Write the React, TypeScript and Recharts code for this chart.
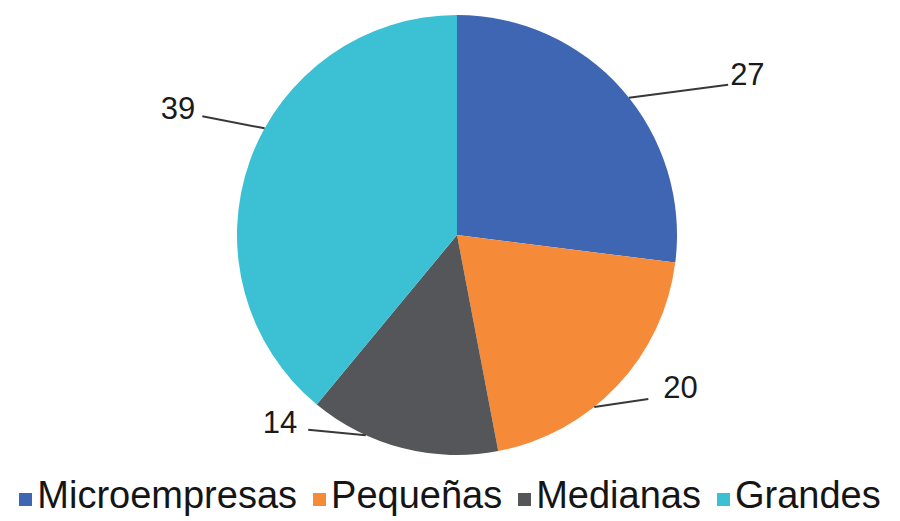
import React from "react";
import { PieChart, Pie, Cell, Legend } from "recharts";

const categories = ["Microempresas", "Pequeñas", "Medianas", "Grandes"];
const values = [27, 20, 14, 39];
const colors = ["#3F66B2", "#F58A38", "#54565A", "#3CC0D3"];

// leader-line layout (styling, not data)
const leaderShift = [-2.8, -8.2, -10.1, -9.2];
const labelAngle = [29, -40.6, -127.4, 155];
const labelRadius = [310, 252, 245, 281];
const textAnchorOf = ["start", "start", "end", "end"];
const textDx = [2, 15, -11, -7];
const textDy = [0, -1, 3, 3];

const data = categories.map((name, i) => ({ name, value: values[i] }));

const RAD = Math.PI / 180;

const renderLabel = (props: any) => {
  const { cx, cy, midAngle, outerRadius, index, value } = props;
  const a0 = (midAngle + leaderShift[index]) * RAD;
  const sx = cx + outerRadius * Math.cos(a0);
  const sy = cy - outerRadius * Math.sin(a0);
  const a1 = labelAngle[index] * RAD;
  const ex = cx + labelRadius[index] * Math.cos(a1);
  const ey = cy - labelRadius[index] * Math.sin(a1);
  return (
    <g>
      <path d={`M${sx},${sy}L${ex},${ey}`} stroke="#383838" strokeWidth={2} fill="none" />
      <text
        x={ex + textDx[index]}
        y={ey + textDy[index]}
        textAnchor={textAnchorOf[index] as any}
        fontSize={31}
        fontFamily="'Liberation Sans', Arial, sans-serif"
        fill="#1a1a1a"
      >
        {value}
      </text>
    </g>
  );
};

const renderLegend = () => (
  <div
    style={{
      display: "flex",
      justifyContent: "center",
      alignItems: "center",
      fontFamily: "'Liberation Sans', Arial, sans-serif",
      fontSize: 38,
      color: "#151515",
      whiteSpace: "nowrap",
    }}
  >
    {categories.map((c, i) => (
      <div key={c} style={{ display: "flex", alignItems: "center", marginRight: i < categories.length - 1 ? 16 : 0 }}>
        <span
          style={{
            display: "inline-block",
            width: 13,
            height: 13,
            background: colors[i],
            marginRight: 5,
            marginTop: 8,
          }}
        />
        <span>{c}</span>
      </div>
    ))}
  </div>
);

export default function App() {
  return (
    <div style={{ position: "absolute", left: 0, top: 0, width: 900, height: 521, background: "#fff" }}>
      <PieChart width={900} height={521} margin={{ top: 0, right: 0, bottom: 0, left: 0 }}>
        <Pie
          data={data}
          dataKey="value"
          nameKey="name"
          cx={457}
          cy={235}
          outerRadius={220}
          startAngle={90}
          endAngle={-270}
          stroke="none"
          label={renderLabel}
          labelLine={false}
          isAnimationActive={false}
        >
          {data.map((d, i) => (
            <Cell key={d.name} fill={colors[i]} />
          ))}
        </Pie>
        <Legend
          content={renderLegend}
          verticalAlign="bottom"
          wrapperStyle={{ left: 0, width: 900, bottom: 4 }}
        />
      </PieChart>
    </div>
  );
}
